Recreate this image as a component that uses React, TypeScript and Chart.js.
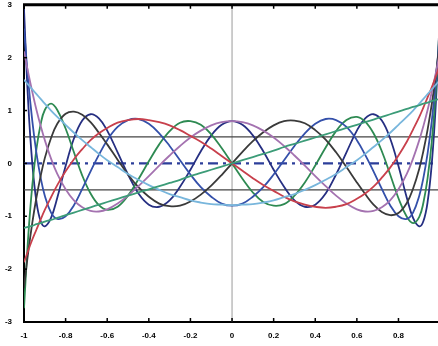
import React, { useEffect, useRef } from "react";
import { Chart, registerables } from "chart.js";

Chart.register(...registerables);

// sample abscissae
const xs = [-1, -0.98, -0.96, -0.94, -0.92, -0.9, -0.87, -0.84, -0.8, -0.76, -0.72, -0.68, -0.64, -0.6, -0.55, -0.5, -0.45, -0.4, -0.35, -0.3, -0.25, -0.2, -0.15, -0.1, -0.05, 0, 0.05, 0.1, 0.15, 0.2, 0.25, 0.3, 0.35, 0.4, 0.45, 0.5, 0.55, 0.6, 0.64, 0.68, 0.72, 0.76, 0.8, 0.84, 0.87, 0.9, 0.92, 0.94, 0.96, 0.98, 1];

// curves
const curve1 = [-1.22, -1.2, -1.18, -1.15, -1.13, -1.1, -1.07, -1.03, -0.98, -0.93, -0.88, -0.83, -0.78, -0.73, -0.67, -0.61, -0.55, -0.49, -0.43, -0.37, -0.31, -0.24, -0.18, -0.12, -0.06, 0, 0.06, 0.12, 0.18, 0.24, 0.31, 0.37, 0.43, 0.49, 0.55, 0.61, 0.67, 0.73, 0.78, 0.83, 0.88, 0.93, 0.98, 1.03, 1.07, 1.1, 1.13, 1.15, 1.18, 1.2, 1.22];
const curve2 = [1.58, 1.49, 1.4, 1.31, 1.22, 1.13, 1.0, 0.88, 0.73, 0.58, 0.44, 0.31, 0.18, 0.06, -0.07, -0.2, -0.31, -0.41, -0.5, -0.58, -0.64, -0.7, -0.74, -0.77, -0.78, -0.79, -0.78, -0.77, -0.74, -0.7, -0.64, -0.58, -0.5, -0.41, -0.31, -0.2, -0.07, 0.06, 0.18, 0.31, 0.44, 0.58, 0.73, 0.88, 1.0, 1.13, 1.22, 1.31, 1.4, 1.49, 1.58];
const curve3 = [-1.87, -1.65, -1.44, -1.25, -1.06, -0.88, -0.64, -0.41, -0.15, 0.08, 0.27, 0.44, 0.57, 0.67, 0.77, 0.82, 0.84, 0.82, 0.78, 0.72, 0.63, 0.52, 0.41, 0.28, 0.14, 0, -0.14, -0.28, -0.41, -0.52, -0.63, -0.72, -0.78, -0.82, -0.84, -0.82, -0.77, -0.67, -0.57, -0.44, -0.27, -0.08, 0.15, 0.41, 0.64, 0.88, 1.06, 1.25, 1.44, 1.65, 1.87];
const curve4 = [2.12, 1.72, 1.35, 1.01, 0.71, 0.44, 0.09, -0.2, -0.49, -0.7, -0.83, -0.9, -0.91, -0.87, -0.76, -0.61, -0.43, -0.24, -0.04, 0.15, 0.33, 0.49, 0.62, 0.72, 0.78, 0.8, 0.78, 0.72, 0.62, 0.49, 0.33, 0.15, -0.04, -0.24, -0.43, -0.61, -0.76, -0.87, -0.91, -0.9, -0.83, -0.7, -0.49, -0.2, 0.09, 0.44, 0.71, 1.01, 1.35, 1.72, 2.12];
const curve5 = [-2.35, -1.69, -1.12, -0.64, -0.24, 0.1, 0.48, 0.75, 0.94, 0.98, 0.92, 0.78, 0.58, 0.36, 0.07, -0.21, -0.45, -0.63, -0.76, -0.81, -0.8, -0.72, -0.59, -0.42, -0.22, 0, 0.22, 0.42, 0.59, 0.72, 0.8, 0.81, 0.76, 0.63, 0.45, 0.21, -0.07, -0.36, -0.58, -0.78, -0.92, -0.98, -0.94, -0.75, -0.48, -0.1, 0.24, 0.64, 1.12, 1.69, 2.35];
const curve6 = [2.55, 1.58, 0.8, 0.19, -0.27, -0.61, -0.93, -1.05, -1.0, -0.79, -0.48, -0.15, 0.16, 0.44, 0.69, 0.82, 0.84, 0.75, 0.57, 0.33, 0.06, -0.21, -0.45, -0.63, -0.76, -0.8, -0.76, -0.63, -0.45, -0.21, 0.06, 0.33, 0.57, 0.75, 0.84, 0.82, 0.69, 0.44, 0.16, -0.15, -0.48, -0.79, -1.0, -1.05, -0.93, -0.61, -0.27, 0.19, 0.8, 1.58, 2.55];
const curve7 = [-2.74, -1.4, -0.41, 0.28, 0.74, 1.01, 1.13, 1.01, 0.66, 0.21, -0.23, -0.57, -0.79, -0.88, -0.82, -0.61, -0.3, 0.04, 0.36, 0.61, 0.77, 0.8, 0.73, 0.55, 0.29, 0, -0.29, -0.55, -0.73, -0.8, -0.77, -0.61, -0.36, -0.04, 0.3, 0.61, 0.82, 0.88, 0.79, 0.57, 0.23, -0.21, -0.66, -1.01, -1.13, -1.01, -0.74, -0.28, 0.41, 1.4, 2.74];
const curve8 = [2.92, 1.16, -0.01, -0.73, -1.09, -1.19, -1.03, -0.65, -0.05, 0.47, 0.81, 0.93, 0.85, 0.62, 0.21, -0.21, -0.57, -0.78, -0.82, -0.7, -0.44, -0.12, 0.23, 0.53, 0.73, 0.8, 0.73, 0.53, 0.23, -0.12, -0.44, -0.7, -0.82, -0.78, -0.57, -0.21, 0.21, 0.62, 0.85, 0.93, 0.81, 0.47, -0.05, -0.65, -1.03, -1.19, -1.09, -0.73, -0.01, 1.16, 2.92];

const curves = [curve1, curve2, curve3, curve4, curve5, curve6, curve7, curve8];
const curveColors = ["#3c9c78", "#78b6dc", "#c8404c", "#a472b0", "#3a3a3a", "#3450aa", "#2e8a52", "#262f82"];

// reference lines
const refLevels = [0.5, -0.5];
const zeroLevel = 0;
const xRange = [-1, 1];
const yRange = [-3, 3];

// axis ticks
const xTicks = [-1, -0.8, -0.6, -0.4, -0.2, 0, 0.2, 0.4, 0.6, 0.8];
const xTickLabels = ["-1", "-0.8", "-0.6", "-0.4", "-0.2", "0", "0.2", "0.4", "0.6", "0.8"];
const yTicks = [-3, -2, -1, 0, 1, 2, 3];
const yTickLabels = ["-3", "-2", "-1", "0", "1", "2", "3"];

const frameAndTicks = {
  id: "frameAndTicks",
  afterDraw(chart: any) {
    const { ctx, chartArea } = chart;
    const xs_ = chart.scales.x;
    const ys_ = chart.scales.y;
    ctx.save();
    ctx.strokeStyle = "#000";
    ctx.lineWidth = 3;
    ctx.beginPath();
    ctx.moveTo(chartArea.left - 1, chartArea.top);
    ctx.lineTo(chartArea.right, chartArea.top);
    ctx.stroke();
    ctx.lineWidth = 1.5;
    xs_.ticks.forEach((t: any) => {
      const px = xs_.getPixelForValue(t.value);
      ctx.beginPath();
      ctx.moveTo(px, chartArea.bottom);
      ctx.lineTo(px, chartArea.bottom - 4);
      ctx.moveTo(px, chartArea.top);
      ctx.lineTo(px, chartArea.top + 4);
      ctx.stroke();
    });
    ys_.ticks.forEach((t: any) => {
      const py = ys_.getPixelForValue(t.value);
      ctx.beginPath();
      ctx.moveTo(chartArea.left, py);
      ctx.lineTo(chartArea.left + 3, py);
      ctx.stroke();
    });
    ctx.restore();
  },
};

export default function App() {
  const ref = useRef<HTMLCanvasElement>(null);

  useEffect(() => {
    if (!ref.current) return;
    const datasets: any[] = curves.map((c, i) => ({
      data: xs.map((x, j) => ({ x, y: c[j] })),
      borderColor: curveColors[i],
      borderWidth: 1.8,
      pointRadius: 0,
      tension: 0.4,
      fill: false,
    }));
    datasets.push({
      data: xRange.map((x) => ({ x, y: zeroLevel })),
      borderColor: "#2c3e9a",
      borderWidth: 2.2,
      borderDash: [10, 5, 3, 5],
      pointRadius: 0,
    });
    refLevels.forEach((lv) =>
      datasets.push({
        data: xRange.map((x) => ({ x, y: lv })),
        borderColor: "#444",
        borderWidth: 1.2,
        pointRadius: 0,
      })
    );
    datasets.push({
      data: yRange.map((y) => ({ x: 0, y })),
      borderColor: "#9a9a9a",
      borderWidth: 1,
      pointRadius: 0,
    });

    const font = { family: "'Liberation Sans', Arial, sans-serif", size: 8, weight: "bold" as const };
    const chart = new Chart(ref.current, {
      type: "line",
      data: { datasets },
      plugins: [frameAndTicks],
      options: {
        animation: false,
        responsive: false,
        devicePixelRatio: 1,
        layout: { padding: { top: 0, right: 0, left: 0, bottom: 0 } },
        plugins: { legend: { display: false }, tooltip: { enabled: false } },
        scales: {
          x: {
            type: "linear",
            min: -1,
            max: 0.99,
            afterBuildTicks: (s: any) => {
              s.ticks = xTicks.map((v) => ({ value: v }));
            },
            afterFit: (s: any) => {
              s.height = 24;
            },
            ticks: {
              autoSkip: false,
              maxRotation: 0,
              padding: 9,
              color: "#000",
              font,
              callback: (v: any) => {
                const i = xTicks.findIndex((t) => Math.abs(t - v) < 1e-6);
                return i >= 0 ? xTickLabels[i] : "";
              },
            },
            grid: { display: true, drawOnChartArea: false, drawTicks: false },
            border: { display: true, color: "#000", width: 2 },
          },
          y: {
            type: "linear",
            min: -3,
            max: 3,
            afterBuildTicks: (s: any) => {
              s.ticks = yTicks.map((v) => ({ value: v }));
            },
            afterFit: (s: any) => {
              s.width = 24;
            },
            ticks: {
              padding: 12,
              color: "#000",
              font,
              callback: (v: any) => {
                const i = yTicks.findIndex((t) => Math.abs(t - v) < 1e-6);
                return i >= 0 ? yTickLabels[i] : "";
              },
            },
            grid: { display: true, drawOnChartArea: false, drawTicks: false },
            border: { display: true, color: "#000", width: 2 },
          },
        },
      },
    });
    return () => chart.destroy();
  }, []);

  return (
    <div style={{ position: "fixed", left: 0, top: 0, width: 438, height: 346, background: "#fff", overflow: "hidden" }}>
      <canvas
        ref={ref}
        width={438}
        height={358}
        style={{ position: "absolute", left: 0, top: -12, width: 438, height: 358 }}
      />
    </div>
  );
}
